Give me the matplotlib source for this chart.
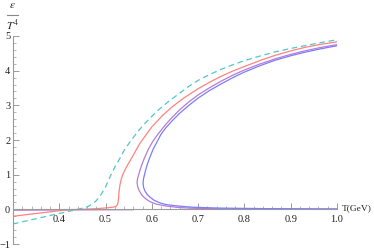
import numpy as np
import matplotlib
matplotlib.use('Agg')
import matplotlib.pyplot as plt
from matplotlib.ticker import MultipleLocator, FixedLocator
from matplotlib.lines import Line2D

# ---- data (T in GeV, e/T^4) ----
dash_T = [0.30, 0.34, 0.38, 0.42, 0.44, 0.46, 0.47, 0.48, 0.49, 0.50, 0.51, 0.52,
          0.53, 0.54, 0.553, 0.57, 0.59, 0.611, 0.635, 0.66, 0.68, 0.70, 0.725,
          0.75, 0.775, 0.80, 0.833, 0.866, 0.90, 0.93, 0.965, 1.00]
dash_e = [-0.42, -0.30, -0.18, -0.06, 0.00, 0.07, 0.14, 0.25, 0.42, 0.65, 0.95, 1.22,
          1.45, 1.70, 1.95, 2.25, 2.55, 2.83, 3.10, 3.35, 3.55, 3.72, 3.89,
          4.04, 4.17, 4.29, 4.42, 4.54, 4.64, 4.72, 4.81, 4.89]

red_T = [0.30, 0.35, 0.40, 0.42, 0.45, 0.48, 0.50, 0.515, 0.522, 0.526, 0.528,
         0.529, 0.531, 0.534, 0.538, 0.545, 0.555, 0.574, 0.60, 0.624, 0.645,
         0.67, 0.70, 0.725, 0.75, 0.775, 0.80, 0.833, 0.866, 0.90, 0.93, 0.965,
         1.00]
red_e = [-0.20, -0.12, -0.04, -0.01, 0.00, 0.02, 0.04, 0.06, 0.08, 0.14, 0.30,
         0.50, 0.70, 0.88, 1.03, 1.22, 1.45, 1.90, 2.38, 2.72, 2.97,
         3.22, 3.48, 3.67, 3.84, 3.99, 4.12, 4.29, 4.44, 4.57, 4.67, 4.76,
         4.83]

purple_T = [1.00, 0.965, 0.93, 0.90, 0.866, 0.833, 0.80, 0.775, 0.75, 0.725, 0.70,
            0.68, 0.66, 0.645, 0.63, 0.615, 0.602, 0.592, 0.583, 0.576, 0.571,
            0.569, 0.568, 0.5695, 0.573, 0.578, 0.585, 0.596, 0.61, 0.633, 0.66,
            0.69, 0.75, 0.85, 1.00]
purple_e = [4.75, 4.67, 4.57, 4.47, 4.34, 4.19, 4.02, 3.87, 3.70, 3.51, 3.30,
            3.10, 2.87, 2.67, 2.45, 2.20, 1.96, 1.72, 1.45, 1.20, 0.98,
            0.88, 0.77, 0.65, 0.53, 0.42, 0.32, 0.22, 0.15, 0.09, 0.05,
            0.03, 0.015, 0.01, 0.005]

# flat part of the purple set along the axis at low T
purple_low_T = [0.30, 0.45, 0.56]
purple_low_e = [-0.025, -0.015, -0.01]

blue_T = [1.00, 0.965, 0.93, 0.90, 0.866, 0.833, 0.80, 0.775, 0.75, 0.725, 0.70,
          0.68, 0.66, 0.645, 0.63, 0.62, 0.612, 0.603, 0.595, 0.589, 0.585,
          0.582, 0.581, 0.582, 0.585, 0.590, 0.596, 0.605, 0.617, 0.63, 0.646,
          0.67, 0.689, 0.75, 0.85, 1.00]
blue_e = [4.72, 4.63, 4.53, 4.43, 4.30, 4.14, 3.96, 3.80, 3.62, 3.43, 3.21,
          3.00, 2.77, 2.57, 2.35, 2.17, 1.97, 1.74, 1.48, 1.25, 1.05,
          0.88, 0.76, 0.64, 0.53, 0.43, 0.35, 0.26, 0.19, 0.14, 0.11,
          0.08, 0.06, 0.035, 0.02, 0.01]

x_ticks = [0.4, 0.5, 0.6, 0.7, 0.8, 0.9, 1.0]
y_ticks = [-1, 0, 1, 2, 3, 4, 5]

plt.rcParams['font.family'] = ['Liberation Serif', 'DejaVu Serif']
plt.rcParams['mathtext.fontset'] = 'stix'

W, H = 374, 249
fig = plt.figure(figsize=(W / 100, H / 100), dpi=100)
# axes placed so x: 0.3 -> px 13, 1.0 -> px 337 ; y: 5 -> px 36, -1 -> px 244
ax = fig.add_axes([13 / W, (H - 244) / H, (337 - 13) / W, (244 - 36) / H])
ax.set_xlim(0.3, 1.0)
ax.set_ylim(-1, 5)

lw = 0.9
ax.plot(purple_low_T, purple_low_e, color='#b07ccc', lw=lw)
ax.plot(dash_T, dash_e, color='#4ec8c8', lw=lw, dashes=(4.5, 3.0))
ax.plot(red_T, red_e, color='#ff8282', lw=lw)
ax.plot(purple_T, purple_e, color='#b57dd2', lw=lw)
ax.plot(blue_T, blue_e, color='#7c7cff', lw=lw)

# Mathematica-like axes crossing at (0.3, 0)
axis_col = '#9a9a9a'
for s in ['top', 'right']:
    ax.spines[s].set_visible(False)
ax.spines['bottom'].set_position(('data', 0))
ax.spines['left'].set_position(('data', 0.3))
ax.spines['bottom'].set_color(axis_col)
ax.spines['left'].set_color(axis_col)
ax.spines['bottom'].set_linewidth(0.8)
ax.spines['left'].set_linewidth(0.8)

ax.xaxis.set_major_locator(FixedLocator(x_ticks))
ax.xaxis.set_minor_locator(MultipleLocator(0.02))
ax.yaxis.set_major_locator(FixedLocator(y_ticks))
ax.yaxis.set_minor_locator(MultipleLocator(0.2))
ax.set_xticklabels(['%.1f' % t for t in x_ticks])
ax.set_yticklabels(['\u22121' if t < 0 else str(t) for t in y_ticks])

ax.tick_params(axis='both', which='major', direction='in', length=4, width=0.7,
               color=axis_col, labelsize=7.5, labelcolor='#222222', pad=2)
ax.tick_params(axis='both', which='minor', direction='in', length=2, width=0.5,
               color=axis_col)
ax.tick_params(axis='x', which='major', pad=4)

# axis labels
fig.text(342 / W, 1 - 208 / H, 'T(GeV)', fontsize=6.8, color='#222222',
         ha='left', va='center')
fig.text(12.5 / W, 1 - 6 / H, r'$\epsilon$', fontsize=8, color='#222222',
         ha='center', va='center')
fig.add_artist(Line2D([7 / W, 18 / W], [1 - 15 / H, 1 - 15 / H],
                      transform=fig.transFigure, color='#888888', lw=0.8))
fig.text(12.5 / W, 1 - 25 / H, r'$T^4$', fontsize=8, color='#222222',
         ha='center', va='center')

fig.savefig('out.png', dpi=100)
